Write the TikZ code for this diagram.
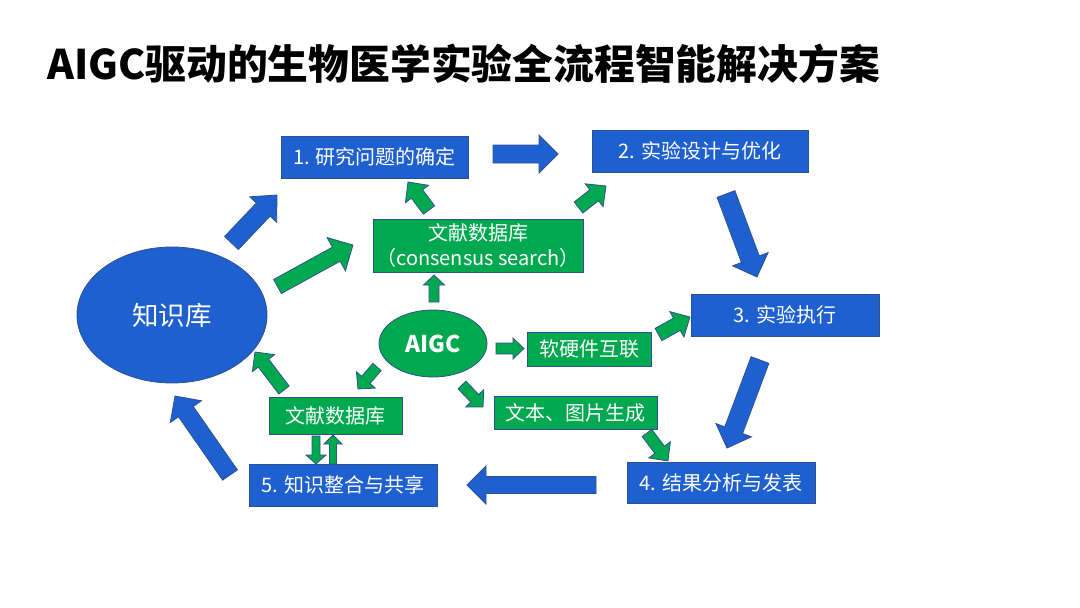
\documentclass[tikz,border=0pt]{standalone}
\usepackage{fontspec}
\newfontfamily\cjk{Noto Sans CJK SC}
\usetikzlibrary{calc,shapes.geometric}
\definecolor{bblue}{HTML}{1E60D0}
\definecolor{bgreen}{HTML}{00A850}
\definecolor{bline}{HTML}{2F528F}
\tikzset{
  bluebox/.style={rectangle, fill=bblue, draw=bline, line width=0.8pt, text=white, inner sep=0pt, align=center, font=\cjk\fontsize{20}{24}\selectfont},
  greenbox/.style={rectangle, fill=bgreen, draw=bline, line width=0.8pt, text=white, inner sep=0pt, align=center, font=\cjk\fontsize{20}{25}\selectfont},
  bluearr/.style={fill=bblue, draw=bline, line width=0.8pt, line join=miter},
  greenarr/.style={fill=bgreen, draw=bline, line width=0.8pt, line join=miter},
}
\newcommand\barrow[6]{%
  \path let \p1=(#1), \p2=(#2), \n1={atan2(\y2-\y1,\x2-\x1)}, \n2={veclen(\x2-\x1,\y2-\y1)} in \pgfextra{\xdef\baang{\n1}\xdef\balen{\n2}};
  \filldraw[#6, shift={(#1)}, rotate=\baang]
    (0pt,{#3*0.5pt}) -- ({\balen-#5pt},{#3*0.5pt}) -- ({\balen-#5pt},{#4*0.5pt})
    -- ({\balen},0pt) -- ({\balen-#5pt},{-#4*0.5pt}) -- ({\balen-#5pt},{-#3*0.5pt})
    -- (0pt,{-#3*0.5pt}) -- cycle;
}
\begin{document}
\begin{tikzpicture}[x=1pt,y=-1pt]
\useasboundingbox[fill=white] (0,0) rectangle (1080,608);
% title
\node[anchor=base west, inner sep=0pt, font=\cjk\bfseries\fontsize{40.8}{48}\selectfont] (title) at (47,79) {AIGC驱动的生物医学实验全流程智能解决方案};
% main boxes
\node[bluebox, minimum width=187, minimum height=42] (b1) at (374.5,157) {1. 研究问题的确定};
\node[bluebox, minimum width=216, minimum height=42] (b2) at (700,151) {2. 实验设计与优化};
\node[bluebox, minimum width=188, minimum height=42] (b3) at (785,315) {3. 实验执行};
\node[bluebox, minimum width=188, minimum height=41] (b4) at (721,482.5) {4. 结果分析与发表};
\node[bluebox, minimum width=188, minimum height=42] (b5) at (343,485) {5. 知识整合与共享};
% green boxes
\node[greenbox, minimum width=210, minimum height=53] (gdb) at (478,245.5) {文献数据库\\（consensus search）};
\node[greenbox, minimum width=124, minimum height=34] (ghw) at (589,349) {软硬件互联};
\node[greenbox, minimum width=163, minimum height=33] (gtx) at (575.5,412.5) {文本、图片生成};
\node[greenbox, minimum width=133, minimum height=37] (gdb2) at (335.5,415.5) {文献数据库};
% ellipses
\node[ellipse, fill=bgreen, draw=bline, line width=0.8pt, minimum width=108, minimum height=67, inner sep=0pt, text=white, font=\cjk\bfseries\fontsize{23}{26}\selectfont] (aigc) at (433,343.5) {AIGC};
\node[ellipse, fill=bblue, draw=bline, line width=0.8pt, minimum width=190, minimum height=136, inner sep=0pt, text=white, font=\cjk\fontsize{26.5}{30}\selectfont] (kb) at (172,315) {知识库};
% arrow end points
\coordinate (a1s) at (231.5,243); \coordinate (a1e) at (277,195);
\coordinate (a2s) at (493,154);   \coordinate (a2e) at (558,154);
\coordinate (a3s) at (726,194);   \coordinate (a3e) at (757,277);
\coordinate (a4s) at (760,360);   \coordinate (a4e) at (727,448);
\coordinate (a5s) at (596,485);   \coordinate (a5e) at (467,485);
\coordinate (a6s) at (230,475);   \coordinate (a6e) at (175,396);
\coordinate (g1s) at (277.5,286.5); \coordinate (g1e) at (353,245);
\coordinate (g2s) at (429,210);   \coordinate (g2e) at (408,182);
\coordinate (g3s) at (578.5,207.5); \coordinate (g3e) at (606,186);
\coordinate (g4s) at (434,302);   \coordinate (g4e) at (434,275);
\coordinate (g5s) at (496,348.5); \coordinate (g5e) at (524,348.5);
\coordinate (g6s) at (658.5,334.5); \coordinate (g6e) at (690,317);
\coordinate (g7s) at (462,385);   \coordinate (g7e) at (483,407);
\coordinate (g8s) at (377,367);   \coordinate (g8e) at (358,389);
\coordinate (g9s) at (284,390);   \coordinate (g9e) at (255,352);
\coordinate (g10s) at (647,433); \coordinate (g10e) at (668,461);
\coordinate (g11s) at (316,436); \coordinate (g11e) at (316,464);
\coordinate (g12s) at (333,464); \coordinate (g12e) at (333,435);
% blue block arrows
\barrow{a1s}{a1e}{19}{37}{20}{bluearr}
\barrow{a2s}{a2e}{18}{38}{19}{bluearr}
\barrow{a3s}{a3e}{19}{38}{19}{bluearr}
\barrow{a4s}{a4e}{19}{38}{19}{bluearr}
\barrow{a5s}{a5e}{17}{38}{19}{bluearr}
\barrow{a6s}{a6e}{18}{38}{19}{bluearr}
% green block arrows
\barrow{g1s}{g1e}{16}{38}{19}{greenarr}
\barrow{g2s}{g2e}{14}{29}{15}{greenarr}
\barrow{g3s}{g3e}{14}{29}{15}{greenarr}
\barrow{g4s}{g4e}{10}{21}{10}{greenarr}
\barrow{g5s}{g5e}{11}{21}{11}{greenarr}
\barrow{g6s}{g6e}{14}{29}{15}{greenarr}
\barrow{g7s}{g7e}{11}{25}{12}{greenarr}
\barrow{g8s}{g8e}{11}{25}{12}{greenarr}
\barrow{g9s}{g9e}{13}{28}{14}{greenarr}
\barrow{g10s}{g10e}{12}{27}{14}{greenarr}
\barrow{g11s}{g11e}{8}{20}{9}{greenarr}
\barrow{g12s}{g12e}{7}{18}{9}{greenarr}
\end{tikzpicture}
\end{document}
